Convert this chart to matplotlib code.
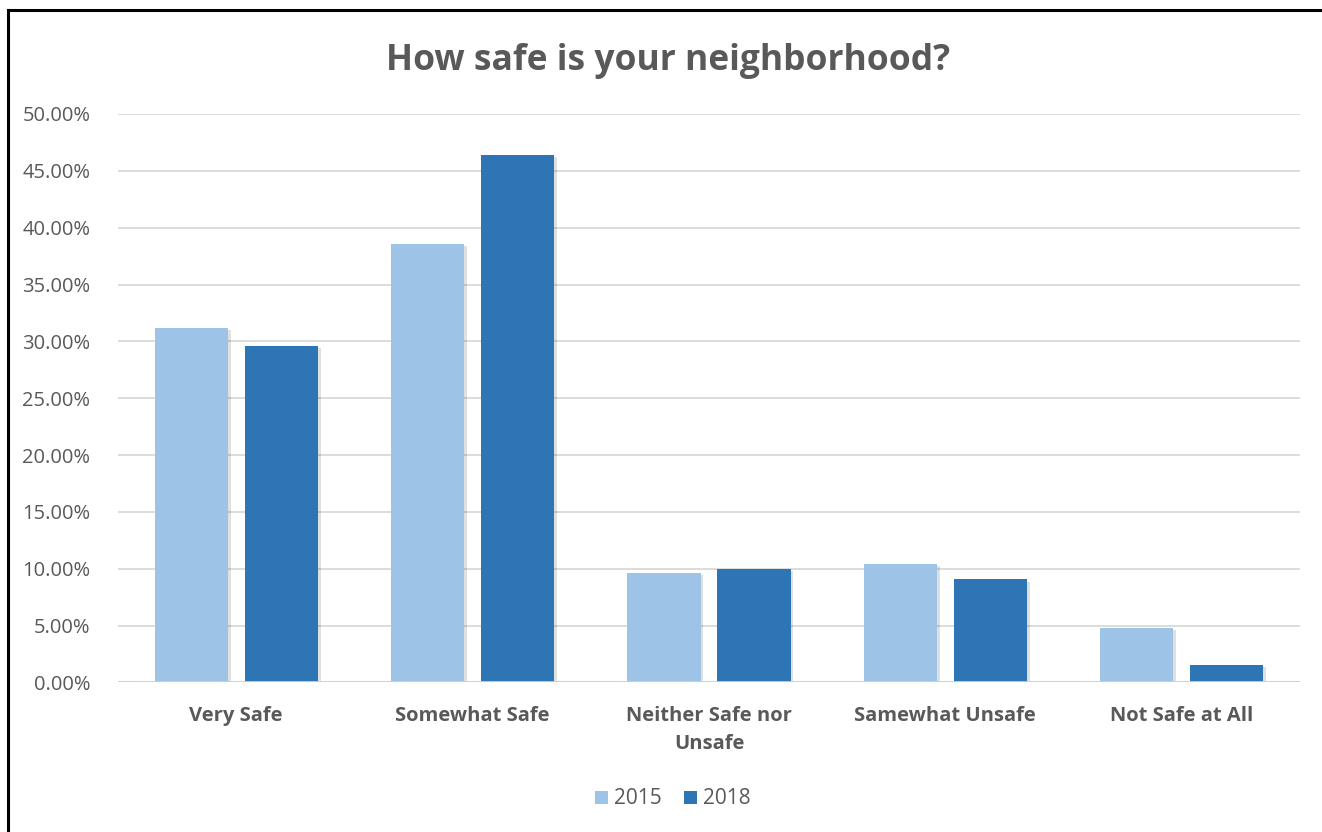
import numpy as np
import matplotlib.pyplot as plt
import matplotlib.patheffects as pe
from matplotlib.lines import Line2D
from matplotlib.patches import Patch
from matplotlib.ticker import FuncFormatter

plt.rcParams['font.family'] = ['Open Sans', 'DejaVu Sans']

categories = ['Very Safe', 'Somewhat Safe', 'Neither Safe nor\nUnsafe',
              'Samewhat Unsafe', 'Not Safe at All']
vals_2015 = [31.2, 38.6, 9.6, 10.4, 4.8]
vals_2018 = [29.6, 46.4, 10.0, 9.06, 1.53]
series = ['2015', '2018']
colors = ['#9DC3E6', '#2E75B6']

fig = plt.figure(figsize=(13.22, 8.32), dpi=100)
ax = fig.add_axes([0.0893, 0.1797, 0.894, 0.6833])

x = np.arange(len(categories))
w = 0.31
shadow = [pe.SimplePatchShadow(offset=(2, -1.5), shadow_rgbFace='#000000', alpha=0.12), pe.Normal()]
for i, vals in enumerate([vals_2015, vals_2018]):
  bars = ax.bar(x + (i - 0.5) * 0.38, vals, w, color=colors[i], zorder=3)
  for b in bars:
    b.set_path_effects(shadow)

ax.set_xlim(-0.5, len(categories) - 0.5)
ax.set_ylim(0, 50)
ax.set_yticks(np.arange(0, 51, 5))
ax.yaxis.set_major_formatter(FuncFormatter(lambda v, p: f'{v:.2f}%'))
ax.grid(axis='y', color='#d9d9d9', linewidth=1.3, zorder=0)
ax.axhline(0, color='#d0d0d0', linewidth=2, zorder=4)

for s in ax.spines.values():
  s.set_visible(False)
ax.tick_params(axis='both', length=0, colors='#595959', labelsize=14.5)
ax.tick_params(axis='y', pad=20)
ax.tick_params(axis='x', pad=17)
ax.set_xticks(x)
ax.set_xticklabels(categories, fontweight='bold', fontsize=14.5, color='#595959',
                   linespacing=1.55)

fig.text(0.505, 0.927, 'How safe is your neighborhood?', ha='center', va='center',
         fontsize=25.5, fontweight='bold', color='#595959')

handles = [Patch(facecolor=c, label=s) for c, s in zip(colors, series)]
ax.legend(handles=handles, loc='center', bbox_to_anchor=(0.509, 1 - 799 / 832),
          bbox_transform=fig.transFigure, ncol=2, frameon=False, fontsize=15,
          handlelength=0.6, handleheight=0.6, handletextpad=0.3, columnspacing=1.1,
          labelcolor='#595959')

fig.add_artist(Line2D([7.5 / 1322, 7.5 / 1322], [0, 1 - 9.5 / 832], color='black', linewidth=2.2))
fig.add_artist(Line2D([7.5 / 1322, 1], [1 - 9.5 / 832, 1 - 9.5 / 832], color='black', linewidth=2.2))

fig.savefig('out.png', dpi=100, facecolor='white')
